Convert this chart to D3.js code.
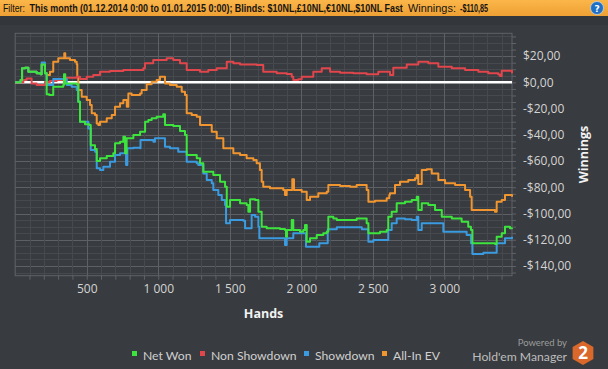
<!DOCTYPE html>
<html><head><meta charset="utf-8">
<script src="https://cdn.jsdelivr.net/npm/d3@7"></script>
<style>html,body{margin:0;padding:0;background:#383b3f;}svg{display:block;}</style>
</head><body>
<svg id="c" width="608" height="369"></svg>
<script>
// ---- data (hands, winnings $) ----
const seriesNames = ["Net Won", "Non Showdown", "Showdown", "All-In EV"];
const xTicks = [500, 1000, 1500, 2000, 2500, 3000];
const yTicks = [20, 0, -20, -40, -60, -80, -100, -120, -140];

const netWon = [[0,0],[38,1.8],[48,10.7],[69,11.1],[92,8.1],[150,6.9],[178,6.1],[185,13.7],[201,13.7],[208,6.9],[220,-9.1],[238,-9.7],[266,-3.4],[336,-2.1],[341,6.1],[350,-0.8],[430,-1.5],[441,-14.8],[453,-30],[488,-32],[518,-32.6],[528,-47.9],[558,-50.9],[570,-60],[593,-57.9],[640,-56.2],[686,-54.1],[698,-46.5],[733,-45.3],[756,-41.5],[768,-54.1],[779,-42.7],[826,-40.2],[873,-37.7],[908,-30],[931,-28.7],[954,-27.4],[989,-26.2],[1035,-24.4],[1047,-32.5],[1105,-33.3],[1152,-37.1],[1187,-40.2],[1199,-55.4],[1269,-57.9],[1292,-61.7],[1315,-68.1],[1385,-70.7],[1432,-75.8],[1467,-79.6],[1479,-94.8],[1502,-89.7],[1572,-92.2],[1618,-93.5],[1630,-98.6],[1642,-89.2],[1677,-89.7],[1700,-98.6],[1723,-110.1],[1758,-111.3],[1851,-111.8],[1886,-112.6],[1893,-117.7],[1900,-112.6],[1933,-105],[1944,-112.6],[1991,-113.9],[2014,-112.6],[2026,-108.8],[2038,-121.5],[2061,-118.9],[2108,-116.4],[2154,-115.1],[2178,-113.9],[2189,-102.4],[2224,-103.7],[2248,-105],[2318,-105],[2387,-103.7],[2457,-107.5],[2469,-115.1],[2550,-113.9],[2597,-112.6],[2608,-102.4],[2632,-98.6],[2667,-92.2],[2725,-91],[2772,-89.7],[2807,-87.2],[2818,-97.3],[2842,-92.2],[2888,-93.5],[2935,-97.3],[2982,-102.4],[3052,-103.7],[3121,-106.3],[3167,-110.1],[3186,-112.6],[3196,-122.7],[3261,-122.7],[3354,-123.2],[3366,-117.7],[3401,-115.1],[3424,-110.1],[3459,-111.3],[3473,-110.85]];

const nonShowdown = [[0,0],[57,1.8],[80,3],[115,-0.8],[150,-2.1],[196,-2.1],[208,0.2],[243,1],[290,1.8],[360,3.5],[430,4.3],[453,2.5],[500,4.3],[546,5.6],[593,8.1],[663,8.6],[756,9.4],[849,9.4],[896,10.7],[907,14.5],[965,17],[1059,18.3],[1105,17],[1152,14.5],[1199,9.4],[1292,8.1],[1350,9.4],[1409,10.7],[1479,15.7],[1525,14.5],[1572,13.7],[1688,13.2],[1734,8.1],[1828,6.9],[1898,6.3],[1933,4.3],[1944,1.8],[1979,2.3],[2003,4.3],[2084,8.1],[2143,10.7],[2201,8.1],[2271,7.3],[2364,6.9],[2457,6.1],[2538,8.1],[2620,5.6],[2643,11.1],[2737,13.7],[2818,15.7],[2888,14.5],[2958,11.9],[3052,10.7],[3145,9.4],[3238,8.1],[3307,6.9],[3377,5.9],[3389,4.8],[3401,8.8],[3473,6.85]];

const showdown = [[0,0],[38,1.8],[48,10.7],[69,11.1],[92,8.1],[150,6.9],[178,6.1],[185,15.2],[201,15.2],[208,6.9],[220,-2.1],[266,2.5],[348,2.5],[360,-2.1],[395,-3.4],[430,-5.9],[441,-14.8],[453,-30],[511,-35.1],[528,-51.6],[558,-52.9],[570,-65.5],[593,-66.8],[616,-64.3],[663,-60.5],[698,-55.4],[733,-54.1],[768,-54.1],[775,-63],[784,-50.3],[826,-49.8],[873,-50.3],[876,-44],[931,-44],[966,-45.3],[977,-42.7],[1035,-42.7],[1047,-49.1],[1082,-50.3],[1129,-50.3],[1140,-52.9],[1187,-52.9],[1199,-60.5],[1269,-61.7],[1280,-63],[1315,-69.4],[1339,-74.5],[1374,-77],[1385,-82.1],[1420,-85.9],[1444,-89.7],[1467,-93.5],[1474,-107.5],[1502,-105],[1595,-105.5],[1607,-111.3],[1642,-111.3],[1653,-101.1],[1677,-102.4],[1700,-110.1],[1707,-118.9],[1874,-118.9],[1886,-124],[1898,-118.9],[1933,-118.9],[1944,-115.1],[2014,-115.1],[2033,-125.3],[2119,-125.3],[2126,-122.7],[2178,-122.7],[2185,-112],[2236,-112],[2248,-110.5],[2411,-110.5],[2423,-112],[2462,-112],[2469,-121.5],[2504,-120.2],[2597,-120.2],[2608,-112.6],[2632,-107.5],[2667,-103.7],[2725,-104.4],[2772,-105],[2807,-102.4],[2818,-112.6],[2842,-107.5],[2935,-107.5],[2993,-113.9],[3133,-113.9],[3156,-116.4],[3186,-122.7],[3196,-130.9],[3261,-130.9],[3273,-129.9],[3354,-129.9],[3366,-122.7],[3424,-118.9],[3473,-117.7]];

const allInEV = [[0,0],[38,1.8],[48,10.7],[69,11.1],[92,8.1],[150,6.9],[178,6.1],[185,13.7],[201,13.7],[208,6.9],[220,5.6],[243,8.1],[266,15.7],[301,18.3],[336,18.3],[343,22.1],[350,18.3],[383,17],[418,15.7],[430,13.9],[434,4.3],[441,-5.9],[465,-11],[500,-13.5],[523,-17.3],[535,-23.6],[558,-24.9],[570,-31.3],[581,-32.5],[593,-30],[640,-27.4],[675,-24.9],[698,-18.6],[733,-16],[756,-13.5],[780,-18.6],[791,-8.4],[814,-9.7],[873,-8.4],[884,-5.9],[919,-1.5],[954,0.5],[989,1.8],[1012,4.3],[1035,4.3],[1047,-0.8],[1082,-2.1],[1129,-3.4],[1164,-7.2],[1187,-9.7],[1199,-23.6],[1234,-24.9],[1269,-26.2],[1292,-32.5],[1374,-37.7],[1409,-42.7],[1455,-50.3],[1525,-54.1],[1572,-55.4],[1618,-57.9],[1665,-59.2],[1688,-61.7],[1711,-66.8],[1723,-75.8],[1734,-79.6],[1781,-80.8],[1874,-82.1],[1886,-85.9],[1898,-82.1],[1933,-82.1],[1937,-73.9],[1949,-82.1],[2003,-83.4],[2026,-83.4],[2038,-89.7],[2061,-87.2],[2119,-84.6],[2178,-83.4],[2189,-78.3],[2271,-79],[2341,-79.6],[2387,-78.3],[2457,-82.1],[2469,-91],[2515,-90.2],[2597,-88.4],[2615,-85.9],[2620,-84.6],[2655,-78.3],[2690,-75.8],[2748,-74.5],[2795,-73.2],[2807,-70.7],[2818,-77.5],[2842,-66.8],[2877,-66.3],[2912,-69.4],[2958,-74.5],[3005,-77],[3075,-78.3],[3145,-82.1],[3180,-87.2],[3191,-97.3],[3261,-97.3],[3354,-98.6],[3366,-91],[3401,-89.7],[3424,-85.9],[3473,-87.2]];

const colors = ["#3ee43e", "#e0464c", "#3a9be0", "#f0952f"];

// ---- drawing ----
const svg = d3.select("#c");
const W = 608, H = 369;
const L = 15.2, R = 512, T = 33.3, B = 275.7;
const x = d3.scaleLinear().domain([0, 3473]).range([L, R]);
const y = d3.scaleLinear().domain([-147.4, 37.4]).range([B, T]);

// header
const defs = svg.append("defs");
const g1 = defs.append("linearGradient").attr("id","hdr").attr("x1",0).attr("y1",0).attr("x2",0).attr("y2",1);
g1.append("stop").attr("offset","0%").attr("stop-color","#fbb64a");
g1.append("stop").attr("offset","100%").attr("stop-color","#eea033");
svg.append("rect").attr("x",0).attr("y",0).attr("width",W).attr("height",16).attr("fill","url(#hdr)");
svg.append("rect").attr("x",0).attr("y",16).attr("width",W).attr("height",9).attr("fill","#33363a");
const hdrParts = [
  {t:"Filter:", x:3, len:22, b:false},
  {t:"This month (01.12.2014 0:00 to 01.01.2015 0:00); Blinds: $10NL,£10NL,€10NL,$10NL Fast", x:29.5, len:374, b:true},
  {t:"Winnings:", x:408, len:48, b:false},
  {t:"-$110,85", x:460, len:28, b:true}
];
hdrParts.forEach(p => {
  const g = svg.append("g");
  const t = g.append("text").attr("x",0).attr("y",0).text(p.t)
    .attr("font-family","'Liberation Sans', Arial, sans-serif").attr("font-size",11.5)
    .attr("font-weight",p.b?"bold":"normal").attr("fill","#141414");
  const w = t.node().getComputedTextLength();
  g.attr("transform",`translate(${p.x},12) scale(${p.len / w},1)`);
});
svg.append("circle").attr("cx",597).attr("cy",8).attr("r",6.5).attr("fill","#1f6fc4").attr("stroke","#bcd6f0").attr("stroke-width",0.8);
svg.append("text").attr("x",597).attr("y",11.5).attr("text-anchor","middle").text("?")
  .attr("font-family","'DejaVu Sans', sans-serif").attr("font-size",9).attr("font-weight","bold").attr("fill","#fff");

// grid
const grid = svg.append("g");
const xMinor = d3.range(100, 3473, 100);
const yMinor = d3.range(-145, 37.4, 5);
grid.selectAll(".ym").data(yMinor).enter().append("line")
  .attr("x1",L).attr("x2",R).attr("y1",d=>Math.round(y(d))+0.5).attr("y2",d=>Math.round(y(d))+0.5)
  .attr("stroke", d => d % 20 === 0 ? "#5d6065" : "#46494e").attr("stroke-width",1);
grid.selectAll(".xm").data(xMinor).enter().append("line")
  .attr("y1",T).attr("y2",B).attr("x1",d=>Math.round(x(d))+0.5).attr("x2",d=>Math.round(x(d))+0.5)
  .attr("stroke", d => d % 500 === 0 ? "#5d6065" : "#46494e").attr("stroke-width",1);
svg.append("rect").attr("x",L).attr("y",T).attr("width",R-L).attr("height",B-T)
  .attr("fill","none").attr("stroke","#606368").attr("stroke-width",1);

// axes
const xAxis = d3.axisBottom(x).tickValues(xMinor).tickSize(4)
  .tickFormat(d => xTicks.includes(d) ? d3.format(",")(d).replace(/,/g," ") : "");
const gx = svg.append("g").attr("transform",`translate(0,${B})`).call(xAxis);
gx.select(".domain").remove();
gx.selectAll("line").attr("stroke","#606368");
gx.selectAll("text").attr("fill","#d4d4d4").attr("font-size",12).attr("dy","0.9em")
  .attr("font-family","'Open Sans', sans-serif");

const yAxis = d3.axisRight(y).tickValues(yMinor).tickSize(4)
  .tickFormat(d => yTicks.includes(d) ? (d < 0 ? "-$" : "$") + Math.abs(d) + ",00" : "");
const gy = svg.append("g").attr("transform",`translate(${R},0)`).call(yAxis);
gy.select(".domain").remove();
gy.selectAll("line").attr("stroke","#606368");
gy.selectAll("text").attr("fill","#d4d4d4").attr("font-size",12).attr("x",11)
  .attr("font-family","'Open Sans', sans-serif");

// zero line
svg.append("line").attr("x1",L).attr("x2",R).attr("y1",y(0)).attr("y2",y(0))
  .attr("stroke","#ffffff").attr("stroke-width",2.5);

// series
const line = d3.line().x(d=>x(d[0])).y(d=>y(d[1])).curve(d3.curveStepAfter);
const all = [netWon, nonShowdown, showdown, allInEV];
[3,1,2,0].forEach(i => {
  svg.append("path").datum(all[i]).attr("d",line).attr("fill","none")
    .attr("stroke",colors[i]).attr("stroke-width",2).attr("stroke-linejoin","round");
});

// axis titles
svg.append("text").attr("x",(L+R)/2).attr("y",318).attr("text-anchor","middle").text("Hands")
  .attr("font-family","'Open Sans', sans-serif").attr("font-size",12.5).attr("font-weight","bold").attr("fill","#f2f2f2");
svg.append("text").attr("transform",`translate(588,${(T+B)/2}) rotate(-90)`).attr("text-anchor","middle").text("Winnings")
  .attr("font-family","'Open Sans', sans-serif").attr("font-size",12.5).attr("font-weight","bold").attr("fill","#f2f2f2");

// legend
const legX = [132, 200, 304, 382];
const leg = svg.append("g");
seriesNames.forEach((n,i) => {
  leg.append("rect").attr("x",legX[i]).attr("y",351).attr("width",5).attr("height",5).attr("fill",colors[i]);
  leg.append("text").attr("x",legX[i]+11).attr("y",359.5).text(n)
    .attr("font-family","Lato, sans-serif").attr("font-size",12.2).attr("fill","#d0d0d0");
});

// branding
svg.append("text").attr("x",567).attr("y",345.5).attr("text-anchor","end").text("Powered by")
  .attr("font-family","Lato, sans-serif").attr("font-size",9.5).attr("fill","#9b9b9b");
svg.append("text").attr("x",567).attr("y",360.5).attr("text-anchor","end").text("Hold'em Manager")
  .attr("font-family","Lato, sans-serif").attr("font-size",12.2).attr("fill","#bdbdbd");
const hx = 583, hy = 353, hr = 12;
const hex = d3.range(6).map(k => { const a = Math.PI/3*k - Math.PI/2; return [hx + hr*Math.cos(a), hy + hr*Math.sin(a)]; });
svg.append("polygon").attr("points",hex.map(p=>p.join(",")).join(" ")).attr("fill","#d9682a");
svg.append("text").attr("x",hx).attr("y",hy+6).attr("text-anchor","middle").text("2")
  .attr("font-family","'Open Sans', sans-serif").attr("font-size",17).attr("font-weight","bold").attr("fill","#ffffff");
</script>
</body></html>
